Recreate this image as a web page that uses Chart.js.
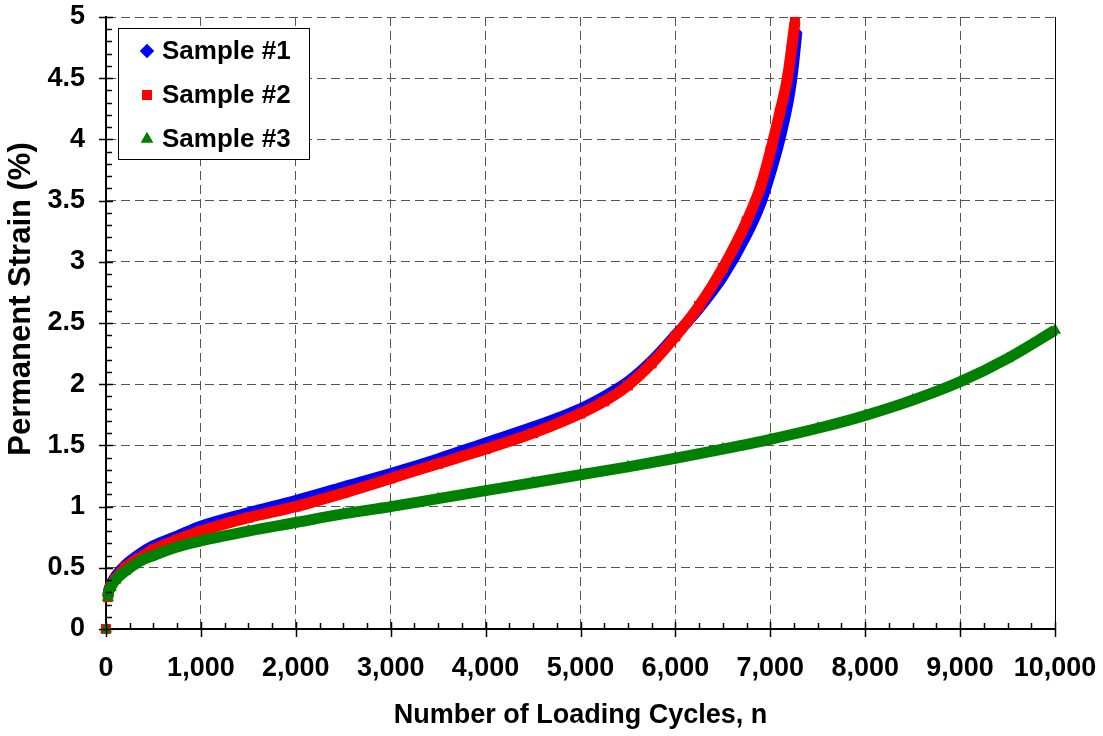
<!DOCTYPE html>
<html>
<head>
<meta charset="utf-8">
<script src="https://cdn.jsdelivr.net/npm/chart.js@4.4.0/dist/chart.umd.min.js"></script>
<style>
  html, body { margin: 0; padding: 0; background: #fff; }
  #wrap { width: 1103px; height: 736px; position: relative; }
</style>
</head>
<body>
<div id="wrap"><canvas id="c"></canvas></div>
<script>
'use strict';

/* ---- data ---- */
var cycles1 = [0, 20, 50, 100, 200, 350, 500, 750, 1000, 1500, 2000, 2500, 3000, 3500, 4000, 4500,
               5000, 5250, 5500, 5750, 6000, 6250, 6500, 6750, 6900, 7000, 7100, 7200, 7240, 7280];
var strain1 = [0, 0.27, 0.36, 0.43, 0.52, 0.61, 0.68, 0.76, 0.84, 0.95, 1.05, 1.16, 1.27, 1.39, 1.52, 1.65,
               1.80, 1.90, 2.02, 2.19, 2.40, 2.62, 2.88, 3.22, 3.48, 3.72, 4.00, 4.36, 4.58, 4.88];

var cycles2 = [0, 20, 50, 100, 200, 350, 500, 750, 1000, 1500, 2000, 2500, 3000, 3500, 4000, 4500,
               5000, 5250, 5500, 5750, 6000, 6250, 6500, 6750, 6900, 7000, 7100, 7180, 7220, 7260];
var strain2 = [0, 0.26, 0.35, 0.41, 0.50, 0.58, 0.65, 0.73, 0.80, 0.91, 1.00, 1.11, 1.23, 1.35, 1.47, 1.60,
               1.76, 1.86, 1.99, 2.17, 2.39, 2.64, 2.95, 3.33, 3.62, 3.90, 4.22, 4.50, 4.72, 4.96];

var cycles3 = [0, 20, 50, 100, 200, 350, 500, 750, 1000, 1500, 2000, 2500, 3000, 3500, 4000, 4500,
               5000, 5500, 6000, 6500, 7000, 7500, 8000, 8500, 9000, 9500, 10000];
var strain3 = [0, 0.26, 0.34, 0.40, 0.47, 0.55, 0.60, 0.67, 0.72, 0.80, 0.87, 0.94, 1.00, 1.065, 1.13, 1.195,
               1.26, 1.325, 1.395, 1.47, 1.55, 1.64, 1.745, 1.87, 2.02, 2.21, 2.44];

var seriesNames  = ['Sample #1', 'Sample #2', 'Sample #3'];
var xTickLabels  = ['0', '1,000', '2,000', '3,000', '4,000', '5,000', '6,000', '7,000', '8,000', '9,000', '10,000'];
var yTickLabels  = ['0', '0.5', '1', '1.5', '2', '2.5', '3', '3.5', '4', '4.5', '5'];
var xTitle = 'Number of Loading Cycles, n';
var yTitle = 'Permanent Strain (%)';

var FONT = '"Liberation Sans", Arial, sans-serif';

function pairs(xs, ys) {
  return xs.map(function (x, i) { return { x: x, y: ys[i] }; });
}

function makeSet(label, xs, ys, color, style, order, radius) {
  return {
    label: label,
    data: pairs(xs, ys),
    showLine: true,
    clip: false,
    borderColor: color,
    backgroundColor: color,
    borderWidth: 11,
    cubicInterpolationMode: 'monotone',
    pointStyle: style,
    pointRadius: radius,
    pointBorderWidth: 0,
    pointBackgroundColor: color,
    order: order,
    // no line from the zero reading up to the first loaded reading
    segment: { borderColor: function (ctx) { return ctx.p0DataIndex === 0 ? 'rgba(0,0,0,0)' : undefined; } }
  };
}

/* ---- ticks, titles, legend in the spreadsheet style ---- */
var excelDecor = {
  id: 'excelDecor',
  afterDraw: function (chart) {
    var ctx = chart.ctx, xs = chart.scales.x, ys = chart.scales.y, a = chart.chartArea;
    var v, p;
    ctx.save();

    // solid right edge
    ctx.strokeStyle = '#000'; ctx.lineWidth = 1;
    ctx.beginPath(); ctx.moveTo(a.right + 0.5, a.top); ctx.lineTo(a.right + 0.5, a.bottom); ctx.stroke();

    ctx.lineWidth = 1.5;
    for (v = 0; v <= 10000; v += 250) {
      p = Math.round(xs.getPixelForValue(v)) + 0.5;
      ctx.beginPath();
      if (v % 1000 === 0) { ctx.moveTo(p, a.bottom - 7); ctx.lineTo(p, a.bottom + 8); }
      else { ctx.moveTo(p, a.bottom - 6); ctx.lineTo(p, a.bottom); }
      ctx.stroke();
    }
    for (v = 0; v <= 50; v += 1) {
      p = Math.round(ys.getPixelForValue(v / 10)) + 0.5;
      ctx.beginPath();
      if (v % 5 === 0) { ctx.moveTo(a.left - 7, p); ctx.lineTo(a.left + 7, p); }
      else { ctx.moveTo(a.left, p); ctx.lineTo(a.left + 6, p); }
      ctx.stroke();
    }

    // axis titles
    ctx.fillStyle = '#000';
    ctx.textAlign = 'center'; ctx.textBaseline = 'middle';
    ctx.font = 'bold 27px ' + FONT;
    ctx.fillText(xTitle, (a.left + a.right) / 2, 716);
    ctx.font = 'bold 31px ' + FONT;
    ctx.translate(21, 299); ctx.rotate(-Math.PI / 2);
    ctx.fillText(yTitle, 0, 0);
    ctx.setTransform(1, 0, 0, 1, 0, 0);

    // legend box
    var lx = 118, ly = 28, lw = 191, lh = 131;
    ctx.fillStyle = '#fff'; ctx.fillRect(lx, ly, lw, lh);
    ctx.strokeStyle = '#000'; ctx.lineWidth = 1;
    ctx.strokeRect(lx + 0.5, ly + 0.5, lw, lh);
    ctx.font = 'bold 26px ' + FONT;
    ctx.textAlign = 'left'; ctx.textBaseline = 'middle';
    chart.data.datasets.forEach(function (ds, i) {
      var cy = 51 + i * 44;
      ctx.fillStyle = ds.borderColor;
      Chart.helpers.drawPoint(ctx, { pointStyle: ds.pointStyle, radius: 7, borderWidth: 0, rotation: 0 }, 147, cy);
      ctx.fill();
      ctx.fillStyle = '#000';
      ctx.fillText(ds.label, 162, cy + 1);
    });
    ctx.restore();
  }
};

var gridOpts = { color: '#555', lineWidth: 1, drawTicks: false };
var borderOpts = { display: true, color: '#000', width: 2, dash: [9, 5] };

new Chart(document.getElementById('c').getContext('2d'), {
  type: 'scatter',
  data: {
    datasets: [
      makeSet(seriesNames[0], cycles1, strain1, '#0000ff', 'rectRot', 3, 5),
      makeSet(seriesNames[1], cycles2, strain2, '#ff0000', 'rect', 2, 7),
      makeSet(seriesNames[2], cycles3, strain3, '#008000', 'triangle', 1, 7)
    ]
  },
  options: {
    responsive: true, maintainAspectRatio: false, animation: false,
    layout: { padding: { top: 17, right: 48, left: 0, bottom: 0 } },
    plugins: { legend: { display: false }, tooltip: { enabled: false } },
    scales: {
      x: {
        type: 'linear', min: 0, max: 10000,
        afterFit: function (s) { s.height = 107; s.paddingLeft = 0; s.paddingRight = 0; },
        grid: gridOpts, border: borderOpts,
        ticks: {
          stepSize: 1000, autoSkip: false, maxRotation: 0, padding: 23, color: '#000',
          font: { family: FONT, size: 27, weight: 'bold' },
          callback: function (v, i) { return xTickLabels[i]; }
        }
      },
      y: {
        type: 'linear', min: 0, max: 5,
        afterFit: function (s) { s.width = 106; s.paddingTop = 0; s.paddingBottom = 0; },
        grid: gridOpts, border: borderOpts,
        ticks: {
          stepSize: 0.5, autoSkip: false, padding: 21, color: '#000',
          font: { family: FONT, size: 27, weight: 'bold' },
          callback: function (v, i) { return yTickLabels[i]; }
        }
      }
    }
  },
  plugins: [excelDecor]
});
</script>
</body>
</html>
